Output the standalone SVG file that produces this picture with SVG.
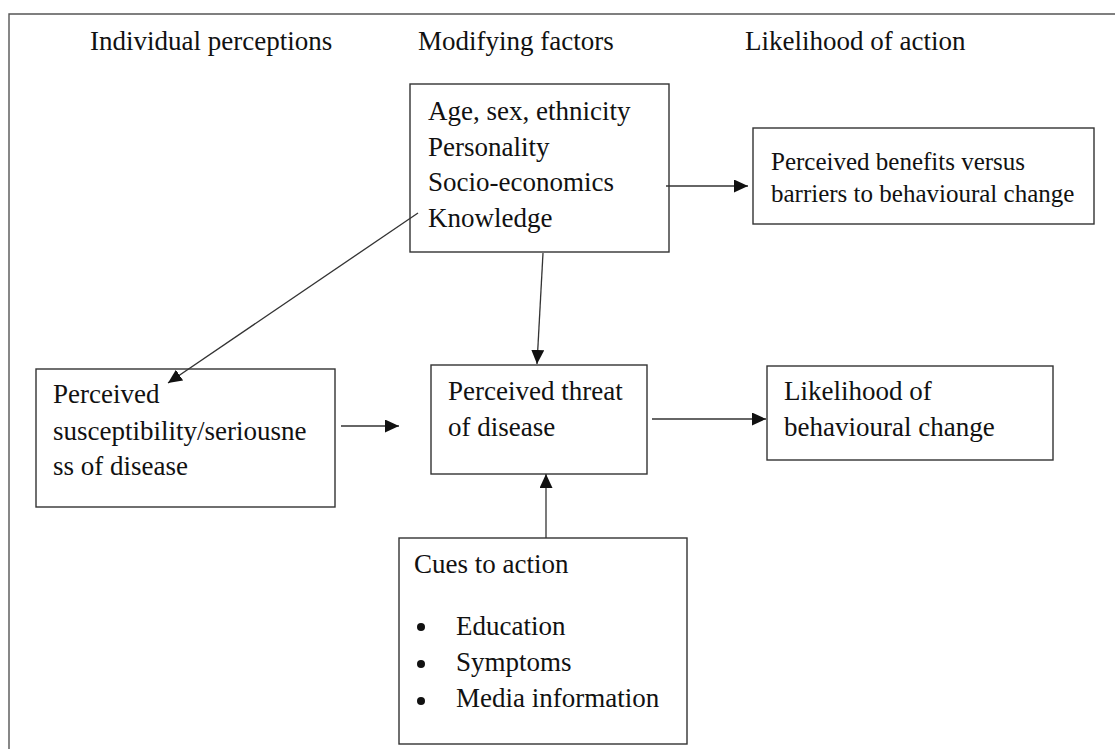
<svg xmlns="http://www.w3.org/2000/svg" width="1115" height="749" viewBox="0 0 1115 749">
  <style>
    text { font-family: 'Liberation Serif', 'DejaVu Serif', serif; font-size: 27px; fill: #111; }
    .s { font-size: 25px; }
    .box { fill: #fff; stroke: #333; stroke-width: 1.4; }
    .frame { fill: none; stroke: #555; stroke-width: 1.4; }
    .dot { fill: #111; }
    .conn line { stroke: #333; stroke-width: 1.3; marker-end: url(#arr); }
  </style>
  <defs>
    <marker id="arr" markerUnits="userSpaceOnUse" markerWidth="15" markerHeight="13" refX="14" refY="6.5" orient="auto">
      <path d="M0,0 L14,6.5 L0,13 Z" fill="#111"/>
    </marker>
  </defs>
  <rect width="1115" height="749" fill="#fff"/>
  <path class="frame" d="M9,749 L9,14 L1115,14"/>

  <g id="headers">
    <text x="90" y="50">Individual perceptions</text>
    <text x="418" y="50">Modifying factors</text>
    <text x="745" y="50">Likelihood of action</text>
  </g>

  <g id="modifying">
    <rect class="box" x="410" y="84" width="259" height="168"/>
    <text x="428" y="120">Age, sex, ethnicity</text>
    <text x="428" y="156">Personality</text>
    <text x="428" y="191">Socio-economics</text>
    <text x="428" y="227">Knowledge</text>
  </g>

  <g id="benefits">
    <rect class="box" x="753" y="128" width="341" height="96"/>
    <text class="s" x="771" y="170">Perceived benefits versus</text>
    <text class="s" x="771" y="202">barriers to behavioural change</text>
  </g>

  <g id="susceptibility">
    <rect class="box" x="36" y="369" width="299" height="138"/>
    <text x="53" y="403">Perceived</text>
    <text x="53" y="440">susceptibility/seriousne</text>
    <text x="53" y="475">ss of disease</text>
  </g>

  <g id="threat">
    <rect class="box" x="431" y="365" width="216" height="109"/>
    <text x="448" y="400">Perceived threat</text>
    <text x="448" y="436">of disease</text>
  </g>

  <g id="likelihood">
    <rect class="box" x="767" y="366" width="286" height="94"/>
    <text x="784" y="400">Likelihood of</text>
    <text x="784" y="436">behavioural change</text>
  </g>

  <g id="cues">
    <rect class="box" x="399" y="538" width="288" height="206"/>
    <text x="414" y="573">Cues to action</text>
    <circle class="dot" cx="421" cy="627" r="4"/>
    <circle class="dot" cx="421" cy="664" r="4"/>
    <circle class="dot" cx="421" cy="701" r="4"/>
    <text x="456" y="635">Education</text>
    <text x="456" y="671">Symptoms</text>
    <text x="456" y="707">Media information</text>
  </g>

  <g id="connectors" class="conn">
    <line x1="418" y1="213" x2="168" y2="383"/>
    <line x1="543" y1="253" x2="537" y2="364"/>
    <line x1="666" y1="186" x2="748" y2="186"/>
    <line x1="341" y1="426" x2="399" y2="426"/>
    <line x1="652" y1="419" x2="766" y2="419"/>
    <line x1="546" y1="538" x2="546" y2="474"/>
  </g>
</svg>
